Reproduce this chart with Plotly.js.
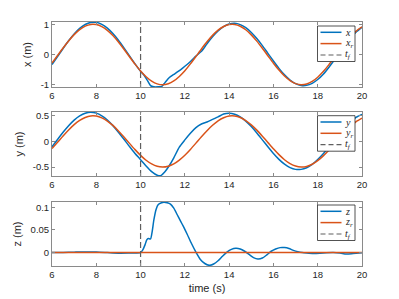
<!DOCTYPE html>
<html><head><meta charset="utf-8">
<script src="https://cdn.plot.ly/plotly-3.0.1.min.js"></script>
<style>html,body{margin:0;padding:0;background:#fff}#chart{width:399px;height:299px}</style>
</head><body><div id="chart"></div>
<script>
// reference time grid (s)
const t = [6,6.25,6.5,6.75,7,7.25,7.5,7.75,8,8.25,8.5,8.75,9,9.25,9.5,9.75,10,10.25,10.5,10.75,11,11.25,11.5,11.75,12,12.25,12.5,12.75,13,13.25,13.5,13.75,14,14.25,14.5,14.75,15,15.25,15.5,15.75,16,16.25,16.5,16.75,17,17.25,17.5,17.75,18,18.25,18.5,18.75,19,19.25,19.5,19.75,20];
const xRef = [-0.279,-0.033,0.215,0.450,0.657,0.823,0.938,0.995,0.989,0.922,0.798,0.625,0.412,0.173,-0.075,-0.319,-0.544,-0.735,-0.880,-0.971,-1.000,-0.967,-0.875,-0.727,-0.537,-0.311,-0.066,0.183,0.420,0.632,0.804,0.926,0.991,0.994,0.935,0.818,0.650,0.442,0.206,-0.042,-0.288,-0.516,-0.713,-0.865,-0.962,-1.000,-0.976,-0.892,-0.751,-0.564,-0.342,-0.099,0.149,0.390,0.605,0.783,0.913];
const yRef = [-0.140,-0.017,0.108,0.225,0.329,0.412,0.469,0.498,0.495,0.461,0.399,0.313,0.206,0.087,-0.038,-0.160,-0.272,-0.368,-0.440,-0.486,-0.500,-0.484,-0.438,-0.364,-0.269,-0.156,-0.033,0.092,0.210,0.316,0.402,0.463,0.496,0.497,0.468,0.409,0.325,0.221,0.103,-0.021,-0.144,-0.258,-0.357,-0.433,-0.481,-0.500,-0.488,-0.446,-0.376,-0.282,-0.171,-0.050,0.075,0.195,0.303,0.392,0.457];
const zRef = t.map(() => 0);

// measured trajectories
const tx = [6,6.25,6.5,6.75,7,7.25,7.5,7.75,8,8.25,8.5,8.75,9,9.25,9.5,9.75,10,10.15,10.3,10.45,10.6,10.8,10.95,11.1,11.3,11.5,11.7,11.9,12.1,12.3,12.5,12.75,13,13.25,13.5,13.75,14,14.25,14.5,14.75,15,15.25,15.5,15.75,16,16.25,16.5,16.75,17,17.25,17.5,17.75,18,18.25,18.5,18.75,19,19.25,19.5,19.75,20];
const xAct = [-0.33,-0.067,0.199,0.453,0.678,0.862,0.992,1.061,1.063,0.999,0.873,0.693,0.471,0.217,-0.048,-0.311,-0.557,-0.68,-0.85,-1.03,-1.07,-1.07,-1.06,-0.93,-0.76,-0.66,-0.56,-0.45,-0.33,-0.2,-0.05,0.107,0.357,0.585,0.776,0.92,1.006,1.03,0.989,0.887,0.73,0.528,0.293,0.039,-0.216,-0.459,-0.673,-0.845,-0.965,-1.024,-1.02,-0.953,-0.828,-0.651,-0.428,-0.183,0.072,0.324,0.556,0.753,0.903];

const ty = [6,6.25,6.5,6.75,7,7.25,7.5,7.75,8,8.25,8.5,8.75,9,9.25,9.5,9.75,10,10.25,10.5,10.75,10.9,11.1,11.3,11.5,11.75,12,12.25,12.5,12.75,13,13.25,13.5,13.75,14,14.25,14.5,14.75,15,15.25,15.5,15.75,16,16.25,16.5,16.75,17,17.25,17.5,17.75,18,18.25,18.5,18.75,19,19.25,19.5,19.75,20];
const yAct = [-0.104,0.038,0.178,0.306,0.416,0.498,0.552,0.570,0.553,0.501,0.419,0.309,0.181,0.042,-0.099,-0.234,-0.356,-0.48,-0.59,-0.66,-0.67,-0.59,-0.47,-0.32,-0.11,0.03,0.16,0.27,0.34,0.38,0.43,0.48,0.535,0.55,0.531,0.479,0.398,0.291,0.166,0.031,-0.105,-0.236,-0.351,-0.445,-0.511,-0.546,-0.546,-0.513,-0.448,-0.354,-0.240,-0.109,0.028,0.163,0.288,0.394,0.477,0.530];

const tz = [6,6.5,7,7.5,8,8.5,9,9.5,10,10.1,10.2,10.28,10.35,10.45,10.52,10.6,10.7,10.8,10.95,11.05,11.2,11.35,11.5,11.65,11.8,11.95,12.1,12.3,12.5,12.7,12.9,13.1,13.3,13.5,13.7,13.9,14.1,14.3,14.5,14.7,14.9,15.1,15.3,15.5,15.7,15.9,16.1,16.3,16.5,16.7,16.9,17.1,17.3,17.5,17.8,18.1,18.4,18.7,19,19.3,19.6,20];
const zAct = [0,0.0003,0.001,0.0015,0.0012,0,-0.0012,-0.0008,0,0.006,0.017,0.028,0.031,0.030,0.045,0.072,0.095,0.106,0.110,0.111,0.110,0.107,0.098,0.084,0.070,0.056,0.041,0.020,0.001,-0.015,-0.024,-0.028,-0.025,-0.018,-0.008,0.001,0.007,0.0095,0.008,0.003,-0.004,-0.011,-0.014,-0.012,-0.005,0.003,0.008,0.011,0.011,0.009,0.005,0.002,0,-0.001,-0.002,-0.0015,-0.0005,0,-0.001,-0.003,-0.002,-0.0005];

const tf = 10;
const xRange = [-1.075, 1.075];
const yRange = [-0.675, 0.575];
const zRange = [-0.0295, 0.1115];
const xTicks = [6,8,10,12,14,16,18,20];
const p1Ticks = [-1,0,1], p1Text = ['-1','0','1'];
const p2Ticks = [-0.5,0,0.5], p2Text = ['-0.5','0','0.5'];
const p3Ticks = [0,0.05,0.1], p3Text = ['0','0.05','0.1'];
const names = [['<i>x</i>','<i>x<sub>r</sub></i>'],['<i>y</i>','<i>y<sub>r</sub></i>'],['<i>z</i>','<i>z<sub>r</sub></i>']];
const tfName = '<i>t<sub>f</sub></i>';

const BLUE = '#0072BD', ORANGE = '#D95319', DASH = '#5f5f5f';
const sets = [[tx,xAct,xRef,xRange],[ty,yAct,yRef,yRange],[tz,zAct,zRef,zRange]];
const traces = [];
sets.forEach((s,i) => {
  const ax = i === 0 ? '' : String(i+1);
  traces.push({x:s[0], y:s[1], type:'scatter', mode:'lines', name:names[i][0], xaxis:'x'+ax, yaxis:'y'+ax,
    line:{color:BLUE, width:1.5, shape:'spline', smoothing:0.6}});
  traces.push({x:t, y:s[2], type:'scatter', mode:'lines', name:names[i][1], xaxis:'x'+ax, yaxis:'y'+ax,
    line:{color:ORANGE, width:1.5, shape:'spline', smoothing:0.6}});
  traces.push({x:[tf,tf], y:s[3], type:'scatter', mode:'lines', name:tfName, xaxis:'x'+ax, yaxis:'y'+ax,
    line:{color:DASH, width:1.2, dash:'6px,3px'}});
});

const FONT = {family:'Liberation Sans, Arial, sans-serif', size:9.5, color:'#262626'};
const TFONT = {family:'Liberation Sans, Arial, sans-serif', size:11, color:'#262626'};
const axBase = {showline:true, linecolor:'#8a8a8a', linewidth:1, mirror:'ticks', ticks:'inside', ticklen:3, tickcolor:'#8a8a8a',
  showgrid:false, zeroline:false, tickfont:FONT};
function xa(anchor, title){
  const o = Object.assign({}, axBase, {anchor:anchor, range:[6,20], tickvals:xTicks, domain:[0,1]});
  if (title) o.title = {text:title, font:TFONT, standoff:4};
  return o;
}
function ya(anchor, dom, rng, tv, tt, title){
  return Object.assign({}, axBase, {anchor:anchor, domain:dom, range:rng, tickvals:tv, ticktext:tt,
    title:{text:title, font:TFONT, standoff:6}});
}

// hand-built legend boxes (pixel geometry converted to paper coords)
const ML = 52, MT = 22, PW = 310, PH = 244;
const px = v => (v - ML) / PW;
const py = v => 1 - (v - MT) / PH;
const shapes = [], annotations = [];
const legendTops = [26, 115.7, 205];
const rowOff = [6.3, 17.6, 29];
legendTops.forEach((top, i) => {
  shapes.push({type:'rect', xref:'paper', yref:'paper', x0:px(317.5), x1:px(355), y0:py(top), y1:py(top+35.5),
    line:{color:'#262626', width:0.8}, fillcolor:'#ffffff', layer:'above'});
  const styles = [{color:BLUE, width:1.5}, {color:ORANGE, width:1.5}, {color:DASH, width:1.2, dash:'5px,3px'}];
  const labels = [names[i][0], names[i][1], tfName];
  rowOff.forEach((ro, j) => {
    shapes.push({type:'line', xref:'paper', yref:'paper', x0:px(320.5), x1:px(341.5), y0:py(top+ro), y1:py(top+ro),
      line:styles[j], layer:'above'});
    annotations.push({xref:'paper', yref:'paper', x:px(343), y:py(top+ro), xanchor:'left', yanchor:'middle',
      text:labels[j], showarrow:false, font:{family:'Liberation Serif, serif', size:10, color:'#262626'}});
  });
});

const layout = {
  width:399, height:299, paper_bgcolor:'#fff', plot_bgcolor:'#fff',
  margin:{l:ML, r:399-ML-PW, t:MT, b:299-MT-PH, pad:0},
  font:FONT, showlegend:false, shapes:shapes, annotations:annotations,
  xaxis: xa('y'), xaxis2: xa('y2'), xaxis3: xa('y3','time (s)'),
  yaxis: ya('x', [0.7336,1], xRange, p1Ticks, p1Text, 'x (m)'),
  yaxis2: ya('x2', [0.3689,0.6311], yRange, p2Ticks, p2Text, 'y (m)'),
  yaxis3: ya('x3', [0,0.2623], zRange, p3Ticks, p3Text, 'z (m)')
};
Plotly.newPlot('chart', traces, layout, {displayModeBar:false, staticPlot:true});
</script></body></html>
